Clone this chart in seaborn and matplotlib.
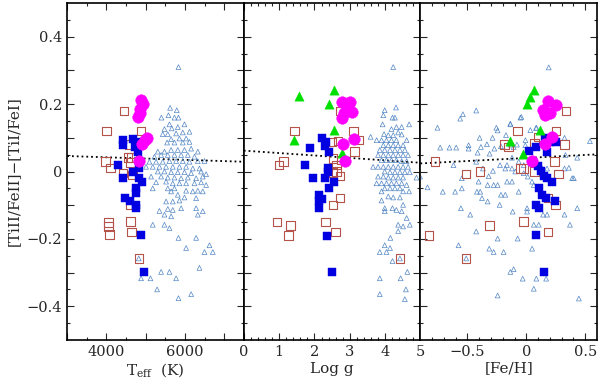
import numpy as np
import matplotlib
matplotlib.use("Agg")
import matplotlib.pyplot as plt
import seaborn as sns

sns.set_style("ticks")
plt.rcParams["font.family"] = ["DejaVu Serif"]
plt.rcParams["mathtext.fontset"] = "dejavuserif"

# ---- dwarfs (small open triangles), read per panel ----
tri_teff = [5835, 5622, 5792, 5401, 5580, 5733, 5835, 5605, 5988, 5478, 5665, 5818,
            5563, 5775, 5945, 6115, 5435, 5648, 5860, 6030, 5546, 5733, 5945, 6115,
            5308, 5478, 5648, 5818, 5988, 6158, 6328, 5223, 5393, 5563, 5733, 5903, 6073, 6243,
            5095, 5265, 5435, 5605, 5775, 5945, 6115, 6328, 6498,
            5010, 5180, 5350, 5520, 5690, 5860, 6030, 6200, 6370,
            5308, 5478, 5648, 5818, 5988, 6158, 6413, 6540,
            5138, 5393, 5563, 5733, 5903, 6073, 6285, 6455,
            5265, 5520, 5690, 5860, 6030, 6243, 6413, 6540,
            5563, 5733, 6030, 6200, 6328, 6455, 5180, 5648,
            5818, 5988, 6285, 5520, 5690, 5860,
            5563, 5690, 5350, 5903, 6285, 6455, 5478, 5648, 6328,
            5180, 5478, 5605, 5835, 6285, 6030, 6625, 6498, 6710,
            6370, 5393, 5605, 5775, 4883, 5121, 5291, 6158, 5835, 4824]
tri_teff_y = [0.31, 0.189, 0.182, 0.16, 0.167, 0.16, 0.16, 0.14, 0.14, 0.126, 0.128, 0.132,
              0.111, 0.113, 0.116, 0.118, 0.111, 0.096, 0.098, 0.098, 0.086, 0.086, 0.086, 0.088,
              0.059, 0.059, 0.064, 0.064, 0.064, 0.068, 0.059, 0.044, 0.049, 0.049, 0.049, 0.049, 0.049, 0.044,
              0.029, 0.029, 0.029, 0.031, 0.031, 0.031, 0.029, 0.031, 0.031,
              0.014, 0.014, 0.014, 0.014, 0.014, 0.014, 0.014, 0.009, 0.009,
              0.0, 0.0, -0.002, -0.002, -0.002, -0.005, 0.0, -0.008,
              -0.015, -0.015, -0.018, -0.018, -0.02, -0.018, -0.02, -0.015,
              -0.032, -0.03, -0.035, -0.035, -0.035, -0.035, -0.032, -0.04,
              -0.05, -0.05, -0.057, -0.059, -0.057, -0.059, -0.05, -0.059,
              -0.069, -0.077, -0.079, -0.089, -0.089, -0.086,
              -0.111, -0.114, -0.117, -0.109, -0.109, -0.118, -0.128, -0.133, -0.128,
              -0.158, -0.158, -0.168, -0.197, -0.197, -0.227, -0.219, -0.239, -0.239,
              -0.286, -0.298, -0.298, -0.317, -0.317, -0.317, -0.35, -0.364, -0.376, -0.258]

tri_logg = [4.23, 4.31, 3.99, 3.95, 4.21, 4.28, 3.93, 4.68, 4.32, 4.47, 4.18, 4.37,
            3.59, 3.97, 4.09, 4.23, 4.47, 3.76, 3.90, 4.04, 4.18, 4.32, 4.61,
            3.95, 4.09, 4.23, 4.37, 4.51, 3.85, 3.99, 4.14, 4.28, 4.42, 4.56,
            3.80, 3.95, 4.09, 4.23, 4.37, 4.51, 4.65, 3.90, 4.04, 4.18, 4.32, 4.47, 4.61,
            3.66, 3.80, 3.95, 4.09, 4.23, 4.37, 4.51, 4.65,
            3.99, 4.14, 4.28, 4.42, 4.56, 4.70, 4.89,
            3.80, 3.95, 4.09, 4.23, 4.37, 4.51,
            3.76, 3.90, 4.04, 4.18, 4.32, 4.47, 4.61,
            3.99, 4.14, 4.28, 4.42, 4.68, 3.90, 4.51, 4.09, 4.23, 4.42, 3.90,
            4.51, 3.99, 4.21, 4.32, 4.47, 3.99, 4.61, 4.37, 4.51, 4.70, 4.37,
            4.15, 3.99, 4.14, 3.85, 4.04, 4.21, 4.63, 3.85, 4.44, 4.59, 3.85, 4.56, 4.42]
tri_logg_y = [0.31, 0.19, 0.182, 0.167, 0.16, 0.16, 0.14, 0.14, 0.132, 0.132, 0.126, 0.116,
              0.103, 0.111, 0.108, 0.108, 0.11, 0.093, 0.093, 0.093, 0.093, 0.093, 0.093,
              0.078, 0.078, 0.078, 0.078, 0.078, 0.064, 0.064, 0.064, 0.064, 0.064, 0.064,
              0.049, 0.049, 0.049, 0.049, 0.049, 0.049, 0.049, 0.034, 0.034, 0.034, 0.034, 0.031, 0.031,
              0.014, 0.014, 0.014, 0.014, 0.014, 0.014, 0.014, 0.014,
              0.0, -0.002, -0.002, -0.002, -0.002, -0.002, -0.018,
              -0.015, -0.015, -0.018, -0.018, -0.018, -0.018,
              -0.035, -0.035, -0.035, -0.035, -0.035, -0.035, -0.04,
              -0.05, -0.05, -0.05, -0.05, -0.059, -0.059, -0.059, -0.074, -0.077, -0.077, -0.086,
              -0.099, -0.109, -0.109, -0.114, -0.118, -0.118, -0.138, -0.158, -0.163, -0.158, -0.177,
              -0.197, -0.219, -0.227, -0.239, -0.239, -0.266, -0.298, -0.317, -0.317, -0.35, -0.364, -0.379, -0.258]

tri_feh = [0.19, -0.426, -0.562, -0.539, -0.755, -0.051, -0.255, -0.244, -0.136, 0.086,
           -0.397, -0.287, -0.173, 0.324, 0.54, -0.732, -0.653, -0.596, -0.491, -0.491,
           -0.386, -0.335, -0.216, -0.272, -0.414, -0.312, -0.108, -0.008, -0.426, -0.619,
           -0.369, -0.284, -0.224, -0.179, -0.122, -0.022, 0.12, 0.176, 0.324, 0.389,
           0.012, -0.32, -0.548, -0.406, -0.244, -0.164, 0.063, -0.903,
           -0.136, -0.08, -0.009, -0.122, -0.065, -0.165, -0.094, -0.023, 0.048, -0.122,
           0.332, 0.432, 0.361, 0.403, 0.034, 0.082, -0.043, -0.136,
           -0.84, -0.71, -0.605, -0.548, -0.42, -0.392, -0.329, -0.278, -0.216, -0.179,
           -0.377, -0.329, -0.227, -0.065, 0.006, 0.006, -0.116, -0.556, -0.477, 0.142,
           0.176, 0.324, 0.432, 0.37, 0.063, 0.105, -0.426, -0.244, -0.074, -0.576,
           -0.315, -0.278, -0.193, 0.049, -0.136, -0.108, -0.031, 0.085, 0.168, 0.063,
           -0.244, 0.446, -0.511]
tri_feh_y = [0.309, 0.181, 0.157, 0.17, 0.13, 0.16, 0.13, 0.122, 0.14, 0.13,
             0.1, 0.1, 0.108, 0.1, 0.09, 0.071, 0.071, 0.071, 0.078, 0.068,
             0.073, 0.081, 0.075, 0.068, 0.056, 0.053, 0.073, 0.093, 0.029, 0.019,
             0.009, 0.002, 0.019, 0.009, 0.009, 0.019, 0.019, 0.009, 0.009, -0.02,
             -0.015, -0.014, -0.02, -0.03, -0.04, -0.03, -0.04, -0.015,
             0.08, 0.08, 0.078, 0.041, 0.029, 0.019, 0.0, -0.005, -0.03, -0.03,
             0.049, 0.041, 0.011, -0.02, 0.123, 0.129, 0.162, 0.142,
             -0.047, -0.06, -0.06, -0.05, -0.06, -0.06, -0.04, -0.04, -0.069, -0.069,
             -0.079, -0.089, -0.099, -0.06, -0.109, -0.119, -0.119, -0.109, -0.128, -0.128,
             -0.128, -0.128, -0.109, -0.158, -0.158, -0.158, -0.178, -0.199, -0.199, -0.219,
             -0.229, -0.239, -0.239, -0.229, -0.298, -0.29, -0.318, -0.318, -0.318, -0.348,
             -0.368, -0.377, -0.258]

# ---- open squares ----
osq_teff = [4449, 4000, 4875, 4594, 3975, 4102, 4551, 4638, 4612, 4423, 4663,
            4059, 4059, 4084, 4620, 4637, 4824, 4612]
osq_teff_y = [0.18, 0.12, 0.12, 0.081, 0.029, 0.011, 0.042, 0.042, 0.026, -0.005, -0.01,
              -0.151, -0.163, -0.187, -0.149, -0.179, -0.258, -0.099]
osq_logg = [1.44, 1.0, 1.13, 2.48, 2.67, 3.1, 3.24, 3.14, 2.53, 2.77, 2.63, 2.63, 2.72,
            2.53, 2.72, 2.53, 0.94, 1.32, 1.27, 2.32, 2.6, 4.42, 2.74]
osq_logg_y = [0.12, 0.019, 0.029, 0.088, 0.091, 0.12, 0.093, 0.06, 0.039, 0.034, 0.019, 0.0,
              -0.013, -0.003, -0.079, -0.099, -0.15, -0.16, -0.19, -0.15, -0.18, -0.258, 0.18]
osq_feh = [-0.775, -0.514, -0.392, -0.315, -0.826, -0.511, -0.187, -0.151, 0.338, -0.074,
           0.253, 0.104, 0.07, 0.326, 0.241, -0.051, -0.023, 0.07, 0.275, 0.185, 0.247,
           -0.023, 0.185]
osq_feh_y = [0.029, -0.008, 0.0, -0.16, -0.19, -0.258, 0.08, 0.073, 0.18, 0.12,
             0.12, 0.103, 0.083, 0.08, 0.029, 0.009, 0.009, 0.0, -0.008, -0.079, -0.099,
             -0.148, -0.18]

# ---- filled blue squares ----
bsq_teff = [4423, 4423, 4678, 4781, 4722, 4806, 4296, 4831, 4678, 4423, 4831, 4918,
            4747, 4747, 4467, 4594, 4765, 4765, 4875, 4960]
bsq_teff_y = [0.093, 0.079, 0.098, 0.088, 0.073, 0.058, 0.019, 0.009, -0.001, -0.02, -0.02, -0.03,
              -0.05, -0.064, -0.079, -0.089, -0.099, -0.108, -0.187, -0.298]
bsq_logg = [2.2, 2.34, 2.3, 2.42, 1.87, 1.73, 2.37, 2.37, 1.95, 2.3, 2.56, 2.41,
            2.13, 2.2, 2.13, 2.12, 2.36, 2.5]
bsq_logg_y = [0.1, 0.088, 0.075, 0.058, 0.071, 0.019, 0.009, -0.001, -0.02, -0.02, -0.03, -0.05,
              -0.069, -0.083, -0.089, -0.109, -0.19, -0.298]
bsq_feh = [0.162, 0.199, 0.253, 0.086, 0.176, 0.026, 0.1, 0.125, 0.148, 0.176, 0.219,
           0.105, 0.134, 0.171, 0.247, 0.086, 0.105, 0.085, 0.148]
bsq_feh_y = [0.1, 0.088, 0.088, 0.073, 0.058, 0.06, 0.017, 0.001, -0.013, -0.02, -0.03,
             -0.05, -0.069, -0.079, -0.089, -0.099, -0.109, -0.189, -0.298]

# ---- magenta circles ----
mag_teff = [4892, 4934, 4867, 4850, 4806, 5035, 4977, 4918, 4831]
mag_teff_y = [0.211, 0.2, 0.187, 0.174, 0.162, 0.1, 0.093, 0.081, 0.032]
mag_logg = [2.77, 3.02, 2.95, 2.83, 2.77, 3.05, 3.12, 2.81, 2.86]
mag_logg_y = [0.206, 0.206, 0.19, 0.174, 0.16, 0.177, 0.098, 0.081, 0.032]
mag_feh = [0.185, 0.253, 0.139, 0.204, 0.162, 0.219, 0.156, 0.049]
mag_feh_y = [0.208, 0.198, 0.182, 0.175, 0.167, 0.103, 0.083, 0.031]

# ---- green triangles (no Teff panel) ----
grn_logg = [1.567, 2.55, 2.41, 2.56, 1.42, 2.77]
grn_logg_y = [0.223, 0.241, 0.201, 0.123, 0.093, 0.054]
grn_feh = [0.062, 0.034, 0.006, 0.113, -0.136, -0.031]
grn_feh_y = [0.241, 0.221, 0.201, 0.123, 0.09, 0.051]

# ---- dotted trend lines ----
fit_teff, fit_teff_y = [3000, 7500], [0.046, 0.029]
fit_logg, fit_logg_y = [0, 5], [0.062, 0.026]
fit_feh, fit_feh_y = [-0.9, 0.6], [0.024, 0.051]

c_tri = "#5286c4"
c_osq = "#b5524a"
c_bsq = "#0000e0"
c_mag = "#ff00ff"
c_grn = "#00e000"

fig = plt.figure(figsize=(6, 3.85), dpi=100)
gs = fig.add_gridspec(1, 3, left=0.112, right=0.995, bottom=0.117, top=0.992, wspace=0)
axes = [fig.add_subplot(gs[0, i]) for i in range(3)]

panels = [
    (tri_teff, tri_teff_y, osq_teff, osq_teff_y, bsq_teff, bsq_teff_y, mag_teff, mag_teff_y,
     None, None, fit_teff, fit_teff_y),
    (tri_logg, tri_logg_y, osq_logg, osq_logg_y, bsq_logg, bsq_logg_y, mag_logg, mag_logg_y,
     grn_logg, grn_logg_y, fit_logg, fit_logg_y),
    (tri_feh, tri_feh_y, osq_feh, osq_feh_y, bsq_feh, bsq_feh_y, mag_feh, mag_feh_y,
     grn_feh, grn_feh_y, fit_feh, fit_feh_y),
]

for ax, p in zip(axes, panels):
    tx, ty, ox, oy, bx, by, mx, my, gx, gy, fx, fy = p
    ax.plot(fx, fy, color="black", ls=":", lw=1.3, zorder=1)
    sns.scatterplot(x=tx, y=ty, ax=ax, marker="^", s=12, facecolor="none",
                    edgecolor=c_tri, linewidth=0.5, zorder=2)
    sns.scatterplot(x=ox, y=oy, ax=ax, marker="s", s=38, facecolor="none",
                    edgecolor=c_osq, linewidth=0.8, zorder=3)
    sns.scatterplot(x=bx, y=by, ax=ax, marker="s", s=36, color=c_bsq,
                    edgecolor=c_bsq, linewidth=0.3, zorder=4)
    if gx is not None:
        sns.scatterplot(x=gx, y=gy, ax=ax, marker="^", s=45, color=c_grn,
                        edgecolor=c_grn, linewidth=0.3, zorder=5)
    sns.scatterplot(x=mx, y=my, ax=ax, marker="o", s=70, color=c_mag,
                    edgecolor=c_mag, linewidth=0.3, zorder=6)
    ax.set_ylim(-0.5, 0.5)
    ax.tick_params(which="both", direction="in", top=True, right=True,
                   labelsize=10.5, width=0.8)
    ax.tick_params(which="major", length=5)
    ax.tick_params(which="minor", length=2.5)
    for s in ax.spines.values():
        s.set_linewidth(1.2)
        s.set_color("black")

yt = [-0.4, -0.3, -0.2, -0.1, 0, 0.1, 0.2, 0.3, 0.4]
ytl = ["\u22120.4", "", "\u22120.2", "", "0", "", "0.2", "", "0.4"]
for ax in axes:
    ax.set_yticks(yt)
    ax.set_yticks(np.arange(-0.45, 0.5, 0.1), minor=True)
axes[0].set_yticklabels(ytl)
for ax in axes[1:]:
    ax.set_yticklabels([])

axes[0].set_xlim(3000, 7500)
axes[0].set_xticks([3000, 4000, 5000, 6000, 7000])
axes[0].set_xticklabels(["", "4000", "", "6000", ""])
axes[0].set_xticks(np.arange(3500, 7500, 1000), minor=True)

axes[1].set_xlim(0, 5)
axes[1].set_xticks([0, 1, 2, 3, 4, 5])
axes[1].set_xticklabels(["0", "1", "2", "3", "4", "5"])
axes[1].set_xticks(np.arange(0, 5.01, 0.2), minor=True)

axes[2].set_xlim(-0.9, 0.6)
axes[2].set_xticks([-0.5, 0, 0.5])
axes[2].set_xticklabels(["\u22120.5", "0", "0.5"])
axes[2].set_xticks(np.arange(-0.8, 0.6, 0.1), minor=True)

axes[0].set_ylabel("[TiII/FeII]\u2212[TiI/FeI]", fontsize=11)
axes[0].set_xlabel(r"T$_{\rm eff}$  (K)", fontsize=11, labelpad=2)
axes[1].set_xlabel("Log g", fontsize=11, labelpad=2)
axes[2].set_xlabel("[Fe/H]", fontsize=11, labelpad=2)

fig.savefig("out.png", dpi=100)
